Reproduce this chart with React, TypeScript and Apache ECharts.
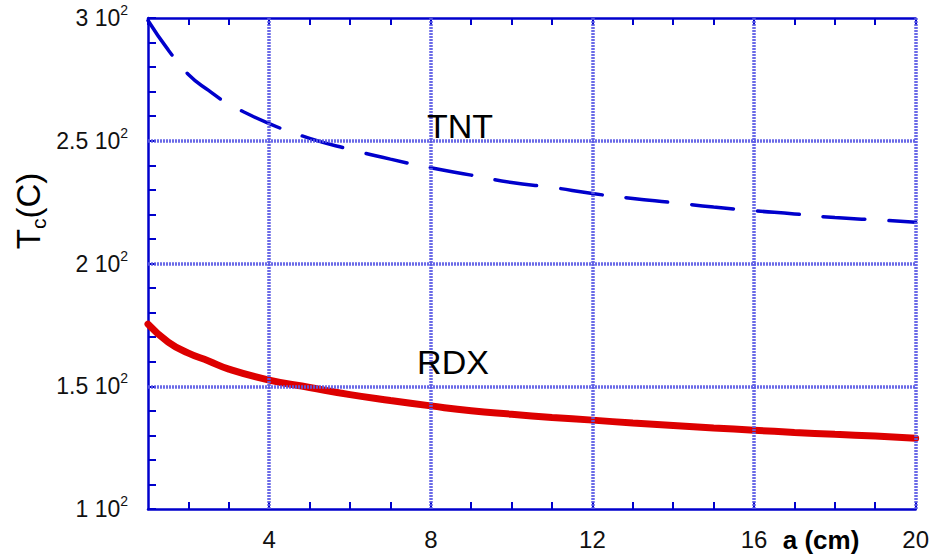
import React, { useEffect, useRef } from "react";
import * as echarts from "echarts";

const aValues = [1, 1.5, 2, 2.5, 3, 4, 5, 6, 7, 8, 9, 10, 11, 12, 13, 14, 15, 16, 17, 18, 19, 20];
const tntValues = [299, 287, 277, 270.5, 265, 257, 251, 246.5, 242.5, 239, 236, 233, 231, 228.5, 226.5, 224.8, 223, 221.5, 220.2, 218.7, 217.8, 216.8];
const rdxValues = [175.3, 168, 163.5, 160.3, 157, 152.5, 149.5, 146.6, 144.2, 142, 140, 138.6, 137.3, 136.2, 135, 134, 133, 132.1, 131.2, 130.4, 129.7, 128.8];
const xGridValues = [4, 8, 12, 16, 20];
const yGridValues = [150, 200, 250];
const xLabelValues = [4, 8, 12, 16, 20];
const curveNames = ["TNT", "RDX"];

const FONT = "Liberation Sans, Arial, sans-serif";
const AXIS_BLUE = "#0000cc";
const GRID_BLUE = "#5a5ae4";

export default function App() {
  const ref = useRef<HTMLDivElement>(null);
  useEffect(() => {
    if (!ref.current) return;
    const chart = echarts.init(ref.current, undefined, { renderer: "svg" });
    const tnt = aValues.map((a, i) => [a, tntValues[i]]);
    const rdx = aValues.map((a, i) => [a, rdxValues[i]]);
    const gridLines = [
      ...xGridValues.map((v) => ({ xAxis: v })),
      ...yGridValues.map((v) => ({ yAxis: v })),
    ];
    chart.setOption({
      animation: false,
      backgroundColor: "#ffffff",
      grid: { left: 148, right: 15, top: 18, bottom: 50, containLabel: false },
      xAxis: [
        {
          type: "value",
          min: 1,
          max: 20,
          interval: 1,
          position: "bottom",
          axisLine: { show: true, lineStyle: { color: AXIS_BLUE, width: 2.5 } },
          axisTick: { show: true, inside: true, length: 7, lineStyle: { color: AXIS_BLUE, width: 2 } },
          splitLine: { show: false },
          axisLabel: {
            margin: 18,
            fontSize: 24,
            fontFamily: FONT,
            color: "#111",
            showMinLabel: false,
            formatter: (v: number) => (xLabelValues.includes(v) ? String(v) : ""),
          },
        },
        {
          type: "value",
          min: 1,
          max: 20,
          interval: 1,
          position: "top",
          axisLine: { show: true, lineStyle: { color: AXIS_BLUE, width: 2.5 } },
          axisTick: { show: true, inside: true, length: 7, lineStyle: { color: AXIS_BLUE, width: 2 } },
          splitLine: { show: false },
          axisLabel: { show: false },
        },
      ],
      yAxis: {
        type: "value",
        min: 100,
        max: 300,
        interval: 10,
        axisLine: { show: true, lineStyle: { color: AXIS_BLUE, width: 2.5 } },
        axisTick: { show: true, inside: true, length: 8, lineStyle: { color: AXIS_BLUE, width: 2 } },
        splitLine: { show: false },
        axisLabel: {
          margin: 20,
          fontSize: 23,
          fontFamily: FONT,
          color: "#111",
          formatter: (v: number) => (v % 50 === 0 ? `{n|${v / 100} 10}{s|2}` : ""),
          rich: {
            n: { fontSize: 23, fontFamily: FONT, color: "#111" },
            s: { fontSize: 14, fontFamily: FONT, color: "#111", padding: [0, 0, 16, 0] },
          },
        },
      },
      series: [
        {
          type: "line",
          name: "grid",
          data: [[1, 100]],
          symbol: "none",
          lineStyle: { opacity: 0 },
          z: 1,
          silent: true,
          markLine: {
            silent: true,
            symbol: "none",
            label: { show: false },
            lineStyle: { color: GRID_BLUE, width: 3.5, type: [2, 1], opacity: 0.9 },
            data: gridLines,
          },
        },
        {
          type: "line",
          name: curveNames[0],
          data: tnt,
          smooth: true,
          symbol: "none",
          z: 3,
          lineStyle: { color: AXIS_BLUE, width: 3.5, type: [42, 24], cap: "round" },
        },
        {
          type: "line",
          name: curveNames[1],
          data: rdx,
          smooth: true,
          symbol: "none",
          z: 3,
          lineStyle: { color: "#dd0000", width: 7, cap: "round" },
        },
      ],
      graphic: [
        {
          type: "text",
          x: 460,
          y: 126,
          style: { text: curveNames[0], fontSize: 34, fontFamily: FONT, fill: "#000", align: "center", verticalAlign: "middle" },
          z: 10,
        },
        {
          type: "text",
          x: 453,
          y: 362,
          style: { text: curveNames[1], fontSize: 34, fontFamily: FONT, fill: "#000", align: "center", verticalAlign: "middle" },
          z: 10,
        },
        {
          type: "text",
          x: 821,
          y: 540,
          style: { text: "a (cm)", fontSize: 26, fontWeight: "bold", fontFamily: FONT, fill: "#000", align: "center", verticalAlign: "middle" },
          z: 10,
        },
        {
          type: "text",
          x: 28,
          y: 211,
          rotation: Math.PI / 2,
          style: {
            text: "{t|T}{c|c}{t|(C)}",
            align: "center",
            verticalAlign: "middle",
            rich: {
              t: { fontSize: 33, fontFamily: FONT, fill: "#000" },
              c: { fontSize: 21, fontFamily: FONT, fill: "#000", padding: [20, 0, 0, 0] },
            },
          },
          z: 10,
        },
      ],
    });
    return () => chart.dispose();
  }, []);
  return <div ref={ref} style={{ width: 932, height: 559, position: "absolute", left: 0, top: 0 }} />;
}
